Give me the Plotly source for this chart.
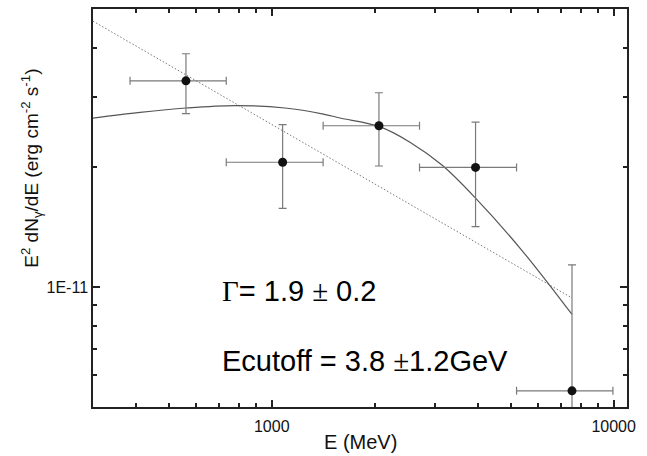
import numpy as np
import plotly.graph_objects as go

# ---- data ----
energy = [561, 1076, 2058, 3945, 7553]            # MeV
energy_lo = [385, 736, 1413, 2705, 5200]
energy_hi = [736, 1413, 2705, 5200, 9950]
flux = [3.30e-11, 2.06e-11, 2.545e-11, 2.00e-11, 5.49e-12]
flux_hi = [3.86e-11, 2.56e-11, 3.08e-11, 2.60e-11, 1.138e-11]
flux_lo = [2.73e-11, 1.578e-11, 2.016e-11, 1.419e-11, 1.0e-12]

cutoff_E = [300, 412, 561, 780, 1093, 1415, 1583, 2058, 2536, 3152, 3945, 5379, 7553]
cutoff_F = [2.66e-11, 2.75e-11, 2.82e-11, 2.86e-11, 2.82e-11, 2.723e-11, 2.661e-11,
            2.535e-11, 2.314e-11, 2.024e-11, 1.674e-11, 1.24e-11, 8.54e-12]

powerlaw_E = [300, 2072, 7553]
powerlaw_F = [4.66e-11, 1.787e-11, 9.4e-12]

x_range = [300, 10940]
y_range = [5e-12, 5e-11]
x_major = [1000, 10000]
x_major_text = ["1000", "10000"]
x_minor = [400, 500, 600, 700, 800, 900, 2000, 3000, 4000, 5000, 6000, 7000, 8000, 9000]
y_major = [1e-11]
y_major_text = ["1E-11"]
y_minor = [6e-12, 7e-12, 8e-12, 9e-12, 2e-11, 3e-11, 4e-11]

FONT = "Arial, Liberation Sans, sans-serif"
SERIF = "'Liberation Serif', 'Times New Roman', serif"
AX = "#222222"

fig = go.Figure()

fig.add_trace(go.Scatter(
    x=powerlaw_E, y=powerlaw_F, mode="lines",
    line=dict(color="#777777", width=1, dash="1.5px,2px"), hoverinfo="skip"))

fig.add_trace(go.Scatter(
    x=cutoff_E, y=cutoff_F, mode="lines", line_shape="spline",
    line=dict(color="#555555", width=1.2), hoverinfo="skip"))

fig.add_trace(go.Scatter(
    x=energy, y=flux, mode="markers",
    marker=dict(color="#111111", size=9),
    error_x=dict(type="data", symmetric=False,
                 array=[h - e for h, e in zip(energy_hi, energy)],
                 arrayminus=[e - l for l, e in zip(energy_lo, energy)],
                 color="#7a7a7a", thickness=1.2, width=4),
    error_y=dict(type="data", symmetric=False,
                 array=[h - f for h, f in zip(flux_hi, flux)],
                 arrayminus=[f - l for l, f in zip(flux_lo, flux)],
                 color="#7a7a7a", thickness=1.2, width=4)))

axis_common = dict(
    showline=True, mirror="ticks", linecolor=AX, linewidth=1.5,
    ticks="inside", tickcolor=AX, tickwidth=1.5, ticklen=7,
    showgrid=False, zeroline=False, automargin=False,
    tickfont=dict(family=FONT, size=16, color="#111111"),
)

fig.update_xaxes(
    type="log", range=[np.log10(x_range[0]), np.log10(x_range[1])],
    tickmode="array", tickvals=x_major, ticktext=x_major_text,
    ticklabelstandoff=4,
    minor=dict(tickmode="array", tickvals=x_minor, ticks="inside",
               ticklen=4, tickwidth=1.5, tickcolor=AX, showgrid=False),
    **axis_common)

fig.update_yaxes(
    type="log", range=[np.log10(y_range[0]), np.log10(y_range[1])],
    tickmode="array", tickvals=y_major, ticktext=y_major_text,
    minor=dict(tickmode="array", tickvals=y_minor, ticks="inside",
               ticklen=4, tickwidth=1.5, tickcolor=AX, showgrid=False),
    **axis_common)

fig.add_annotation(
    text="E (MeV)", xref="paper", yref="paper", x=0.5, y=-0.087,
    xanchor="center", yanchor="middle", showarrow=False,
    font=dict(family=FONT, size=20, color="#111111"))

fig.add_annotation(
    text="E<sup>2</sup> dN<sub>γ</sub>/dE (erg cm<sup>-2</sup> s<sup>-1</sup>)",
    xref="paper", yref="paper", x=-0.115, y=0.60, textangle=-90,
    xanchor="center", yanchor="middle", showarrow=False,
    font=dict(family=FONT, size=19, color="#111111"))

fig.add_annotation(
    text=f"<span style=\"font-family:{SERIF}\">Γ</span>= 1.9 "
         f"<span style=\"font-family:{SERIF}\">±</span> 0.2",
    xref="paper", yref="paper", x=0.238, y=0.2915, xanchor="left", yanchor="middle",
    showarrow=False, font=dict(family=FONT, size=29, color="#000000"))

fig.add_annotation(
    text=f"Ecutoff = 3.8 <span style=\"font-family:{SERIF}\">±</span>1.2GeV",
    xref="paper", yref="paper", x=0.238, y=0.1156, xanchor="left", yanchor="middle",
    showarrow=False, font=dict(family=FONT, size=29, color="#000000"))

fig.update_layout(
    width=647, height=456, autosize=False,
    margin=dict(l=93, r=20, t=9, b=49),
    paper_bgcolor="white", plot_bgcolor="white",
    showlegend=False,
)

fig.write_html("out.html")
